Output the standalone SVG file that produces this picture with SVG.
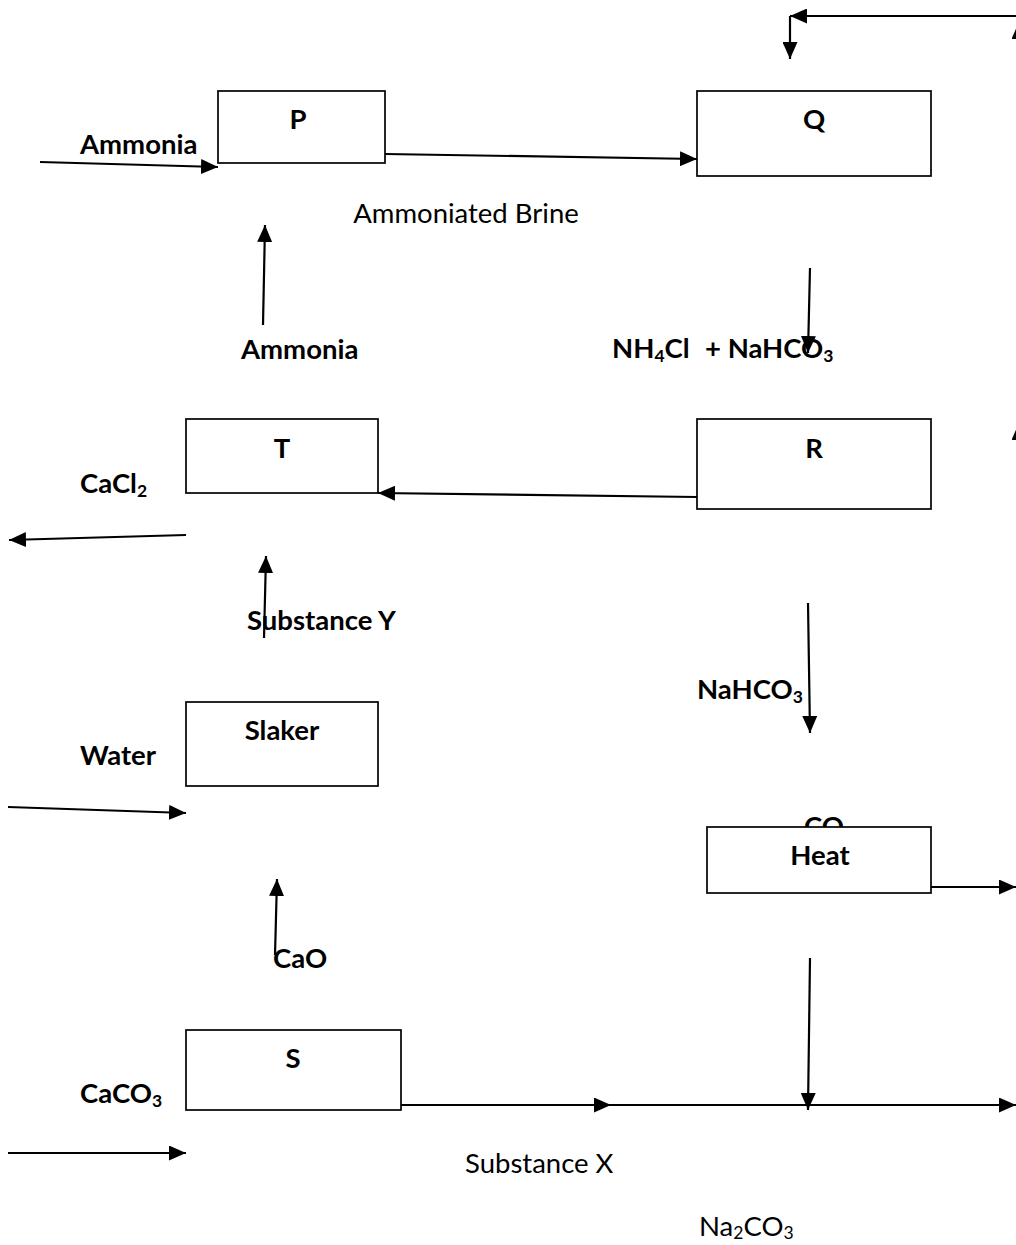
<svg xmlns="http://www.w3.org/2000/svg" width="1016" height="1245" viewBox="0 0 1016 1245">
<style>
  .box { fill: #fff; stroke: #000; stroke-width: 1.7; }
  .lbl { font-family: Lato, "Liberation Sans", sans-serif; font-size: 27.5px; fill: #000; }
  .b { font-weight: bold; }
  .c { text-anchor: middle; }
  .ln { fill: none; stroke: #000; stroke-width: 2.2; marker-end: url(#ah); }
  .sub { font-size: 17.5px; }
</style>
<defs>
  <marker id="ah" markerUnits="userSpaceOnUse" markerWidth="17" markerHeight="15" refX="17" refY="7.5" orient="auto">
    <path d="M0,0 L17,7.5 L0,15 z" fill="#000"/>
  </marker>
</defs>
<rect width="1016" height="1245" fill="#fff"/>

<!-- label partly hidden under the Heat box, as in the reference -->
<text class="lbl b" x="804" y="836">CO<tspan class="sub" dy="4">2</tspan></text>

<g id="connectors">
  <path class="ln" d="M1016,16 L790,16"/>
  <path class="ln" d="M790,16 L790,59"/>
  <path class="ln" d="M1019,400 L1019,22"/>
  <path class="ln" d="M1019,880 L1019,423"/>
  <path class="ln" d="M40,162 L218,167"/>
  <path class="ln" d="M385,154 L697,159"/>
  <path class="ln" d="M263,325 L265,225"/>
  <path class="ln" d="M810,268 L808,353"/>
  <path class="ln" d="M697,497 L378,493"/>
  <path class="ln" d="M186,535 L9,540"/>
  <path class="ln" d="M264,638 L266,556"/>
  <path class="ln" d="M808,603 L810,733"/>
  <path class="ln" d="M8,807 L186,813"/>
  <path class="ln" d="M275,955 L277,879"/>
  <path class="ln" d="M931,887 L1016,887"/>
  <path class="ln" d="M810,958 L808,1110"/>
  <path class="ln" d="M401,1105 L611,1105"/>
  <path class="ln" d="M605,1105 L1016,1105"/>
  <path class="ln" d="M8,1153 L186,1153"/>
</g>

<g id="P">
  <rect class="box" x="218" y="91" width="167" height="72"/>
  <text class="lbl b c" x="298" y="129">P</text>
</g>
<g id="Q">
  <rect class="box" x="697" y="91" width="234" height="85"/>
  <text class="lbl b c" x="814" y="129">Q</text>
</g>
<g id="R">
  <rect class="box" x="697" y="419" width="234" height="90"/>
  <text class="lbl b c" x="814" y="458">R</text>
</g>
<g id="T">
  <rect class="box" x="186" y="419" width="192" height="74"/>
  <text class="lbl b c" x="282" y="458">T</text>
</g>
<g id="Slaker">
  <rect class="box" x="186" y="702" width="192" height="84"/>
  <text class="lbl b c" x="282" y="740">Slaker</text>
</g>
<g id="Heat">
  <rect class="box" x="707" y="827" width="224" height="66"/>
  <text class="lbl b c" x="820" y="865">Heat</text>
</g>
<g id="S">
  <rect class="box" x="186" y="1030" width="215" height="80"/>
  <text class="lbl b c" x="293" y="1068">S</text>
</g>

<g id="labels">
  <text class="lbl b" x="80" y="154">Ammonia</text>
  <text class="lbl c" x="466" y="223">Ammoniated Brine</text>
  <text class="lbl b" x="241" y="359">Ammonia</text>
  <text class="lbl b" x="612" y="358">NH<tspan class="sub" dy="4">4</tspan><tspan dy="-4">Cl</tspan><tspan x="705">+ NaHCO</tspan><tspan class="sub" dy="4">3</tspan></text>
  <text class="lbl b" x="80" y="493">CaCl<tspan class="sub" dy="4">2</tspan></text>
  <text class="lbl b" x="247" y="630">Substance Y</text>
  <text class="lbl b" x="697" y="699">NaHCO<tspan class="sub" dy="4">3</tspan></text>
  <text class="lbl b" x="80" y="765">Water</text>
  <text class="lbl b" x="273" y="968">CaO</text>
  <text class="lbl b" x="80" y="1103">CaCO<tspan class="sub" dy="4">3</tspan></text>
  <text class="lbl" x="465" y="1173">Substance X</text>
  <text class="lbl" x="699" y="1236">Na<tspan class="sub" dy="3">2</tspan><tspan dy="-3">CO</tspan><tspan class="sub" dy="3">3</tspan></text>
</g>
</svg>
